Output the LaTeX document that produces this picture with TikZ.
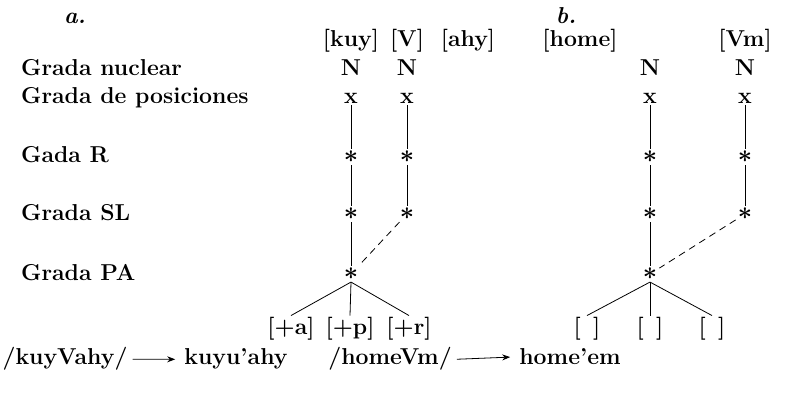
\documentclass[tikz,border=0pt]{standalone}
\usepackage{fontspec}
\setmainfont{Latin Modern Roman}
\usetikzlibrary{arrows.meta}
\begin{document}
\begin{tikzpicture}[x=1pt,y=-1pt,
  every node/.style={font=\fontsize{23}{27}\selectfont\bfseries, inner sep=1pt},
  lab/.style={anchor=base west},
  txt/.style={anchor=base},
  stardot/.style={anchor=center, inner sep=2pt, font=\fontsize{25}{29}\selectfont\boldmath},
  ln/.style={line width=0.8pt},
  dsh/.style={line width=0.8pt, dash pattern=on 7pt off 5pt},
  arr/.style={line width=0.8pt, -{Stealth[length=8pt,width=6pt]}}]
\useasboundingbox (0,0) rectangle (810,414);
% panel labels
\node[txt] (pa) at (75,24) {\itshape a.};
\node[txt] (pb) at (566,24) {\itshape b.};
% row labels
\node[lab] (l1) at (20,76) {Grada nuclear};
\node[lab] (l2) at (20,104) {Grada de posiciones};
\node[lab] (l3) at (20,163) {Gada R};
\node[lab] (l4) at (20,220) {Grada SL};
\node[lab] (l5) at (20,280) {Grada PA};
% headers
\node[txt] (h1) at (351,47) {[kuy]};
\node[txt] (h2) at (407,47) {[V]};
\node[txt] (h3) at (468,47) {[ahy]};
\node[txt] (h4) at (580,47) {[home]};
\node[txt] (h5) at (745,47) {[Vm]};
% N row
\node[txt] (na1) at (351,76) {N};
\node[txt] (na2) at (407,76) {N};
\node[txt] (nb1) at (650,76) {N};
\node[txt] (nb2) at (745,76) {N};
% x row
\node[txt] (xa1) at (351,104) {x};
\node[txt] (xa2) at (407,104) {x};
\node[txt] (xb1) at (650,104) {x};
\node[txt] (xb2) at (745,104) {x};
% R row
\node[stardot] (ra1) at (351,157) {$\ast$};
\node[stardot] (ra2) at (407,157) {$\ast$};
\node[stardot] (rb1) at (650,157) {$\ast$};
\node[stardot] (rb2) at (745,157) {$\ast$};
% SL row
\node[stardot] (sa1) at (351,214) {$\ast$};
\node[stardot] (sa2) at (407,214) {$\ast$};
\node[stardot] (sb1) at (650,214) {$\ast$};
\node[stardot] (sb2) at (745,214) {$\ast$};
% PA row
\node[stardot] (pa1) at (351,274) {$\ast$};
\node[stardot] (pb1) at (650,274) {$\ast$};
% features
\node[txt] (fa1) at (291,334) {[+a]};
\node[txt] (fa2) at (350,334) {[+p]};
\node[txt] (fa3) at (409,334) {[+r]};
\node[txt] (fb1) at (587,334) {[\ \,]};
\node[txt] (fb2) at (650,334) {[\ \,]};
\node[txt] (fb3) at (712,334) {[\ \,]};
% bottom line
\node[txt] (ua) at (65,364) {/kuyVahy/};
\node[txt] (ta) at (236,364) {kuyu'ahy};
\node[txt] (ub) at (390,364) {/homeVm/};
\node[txt] (tb) at (570,364) {home'em};
% connectors a
\draw[ln] (xa1) -- (ra1) -- (sa1) -- (pa1);
\draw[ln] (xa2) -- (ra2) -- (sa2);
\draw[dsh] (sa2) -- (pa1);
\draw[ln] (pa1.south) -- (fa1.north);
\draw[ln] (pa1.south) -- (fa2.north);
\draw[ln] (pa1.south) -- (fa3.north);
% connectors b
\draw[ln] (xb1) -- (rb1) -- (sb1) -- (pb1);
\draw[ln] (xb2) -- (rb2) -- (sb2);
\draw[dsh] (sb2) -- (pb1);
\draw[ln] (pb1.south) -- (fb1.north);
\draw[ln] (pb1.south) -- (fb2.north);
\draw[ln] (pb1.south) -- (fb3.north);
% arrows
\draw[arr] ([xshift=4pt,yshift=-1pt]ua.east) -- ([xshift=-8pt,yshift=-1pt]ta.west);
\draw[arr] ([xshift=4pt,yshift=-1pt]ub.east) -- ([xshift=-8pt,yshift=-1pt]tb.west);
\end{tikzpicture}
\end{document}
